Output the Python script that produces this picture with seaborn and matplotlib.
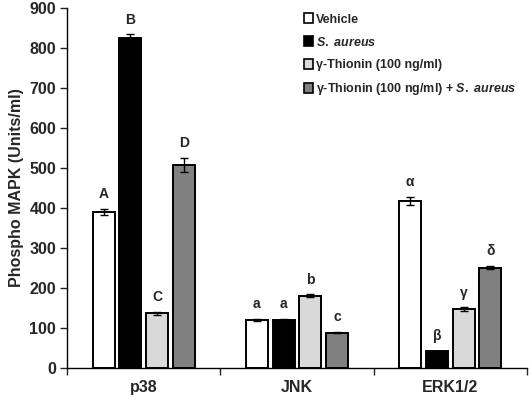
import numpy as np
import pandas as pd
import matplotlib
matplotlib.use('Agg')
import matplotlib.pyplot as plt
import seaborn as sns
from matplotlib.patches import Patch

# Datos
kinases = ['p38', 'JNK', 'ERK1/2']
treatments = ['Vehicle', 'S. aureus', 'γ-Thionin (100 ng/ml)',
              'γ-Thionin (100 ng/ml) + S. aureus']
legend_labels = ['Vehicle', r'$\it{S.\ aureus}$', 'γ-Thionin (100 ng/ml)',
                 r'γ-Thionin (100 ng/ml) + $\it{S.\ aureus}$']
vehicle = [390, 120, 417]
aureus = [825, 120, 42]
thionin = [136, 180, 147]
thionin_aureus = [508, 88, 251]
err_vehicle = [8, 3, 10]
err_aureus = [9, 3, 0]
err_thionin = [3, 4, 4]
err_thionin_aureus = [17, 2, 4]
letters_vehicle = ['A', 'a', 'α']
letters_aureus = ['B', 'a', 'β']
letters_thionin = ['C', 'b', 'γ']
letters_thionin_aureus = ['D', 'c', 'δ']
colors = ['#ffffff', '#000000', '#d9d9d9', '#808080']
yticks = [0, 100, 200, 300, 400, 500, 600, 700, 800, 900]

series = [vehicle, aureus, thionin, thionin_aureus]
errs = [err_vehicle, err_aureus, err_thionin, err_thionin_aureus]
letters = [letters_vehicle, letters_aureus, letters_thionin, letters_thionin_aureus]

rows = []
for t, vals, ers in zip(treatments, series, errs):
    for k, v, e in zip(kinases, vals, ers):
        rows.append({'kinase': k, 'treatment': t, 'value': v, 'err': e})
df = pd.DataFrame(rows)

sns.set_style('white')
plt.rcParams['font.family'] = ['Liberation Sans', 'DejaVu Sans']
plt.rcParams['font.weight'] = 'bold'
plt.rcParams['mathtext.fontset'] = 'custom'
plt.rcParams['mathtext.it'] = 'Liberation Sans:bold:italic'
plt.rcParams['mathtext.rm'] = 'Liberation Sans:bold'

fig = plt.figure(figsize=(5.29, 3.99), dpi=100)
ax = fig.add_axes([0.127, 0.078, 0.869, 0.902])

sns.barplot(data=df, x='kinase', y='value', hue='treatment', order=kinases,
            hue_order=treatments, palette=colors, edgecolor='black',
            linewidth=1.4, width=0.7, gap=0.18, errorbar=None, ax=ax,
            legend=False)

# barras de error y letras
bar_conts = list(ax.containers)
for i, cont in enumerate(bar_conts):
    for j, p in enumerate(cont.patches):
        xc = p.get_x() + p.get_width() / 2
        h = p.get_height()
        e = errs[i][j]
        if e > 0:
            ax.errorbar(xc, h, yerr=e, fmt='none', ecolor='black',
                        elinewidth=1, capsize=3, capthick=1)
        ax.text(xc, h + e + 37, letters[i][j], ha='center', va='center',
                fontsize=10, fontweight='bold')

ax.set_ylim(0, 900)
ax.set_xlim(-0.5, 2.5)
ax.set_yticks(yticks)
ax.set_xticks([-0.5, 0.5, 1.5, 2.5], minor=True)
ax.tick_params(axis='x', which='major', length=0, labelsize=11.5, pad=9)
ax.tick_params(axis='x', which='minor', length=5, width=1, direction='out',
               bottom=True)
ax.tick_params(axis='y', length=5, width=1, direction='out', left=True,
               labelsize=11.5, pad=3)
for lab in ax.get_xticklabels() + ax.get_yticklabels():
    lab.set_fontweight('bold')
ax.set_xlabel('')
ax.set_ylabel('Phospho MAPK (Units/ml)', fontsize=11.5, fontweight='bold',
              labelpad=4)
sns.despine(ax=ax)
for s in ['left', 'bottom']:
    ax.spines[s].set_color('black')
    ax.spines[s].set_linewidth(1)

# leyenda
handles = [Patch(facecolor=c, edgecolor='black', linewidth=1.2) for c in colors]
leg = fig.legend(handles, legend_labels, loc='upper left',
                 bbox_to_anchor=(0.553, 0.995), frameon=False,
                 handlelength=0.75, handleheight=0.85, handletextpad=0.25,
                 labelspacing=0.8, prop={'weight': 'bold', 'size': 9.0})

fig.savefig('out.png', dpi=100)
